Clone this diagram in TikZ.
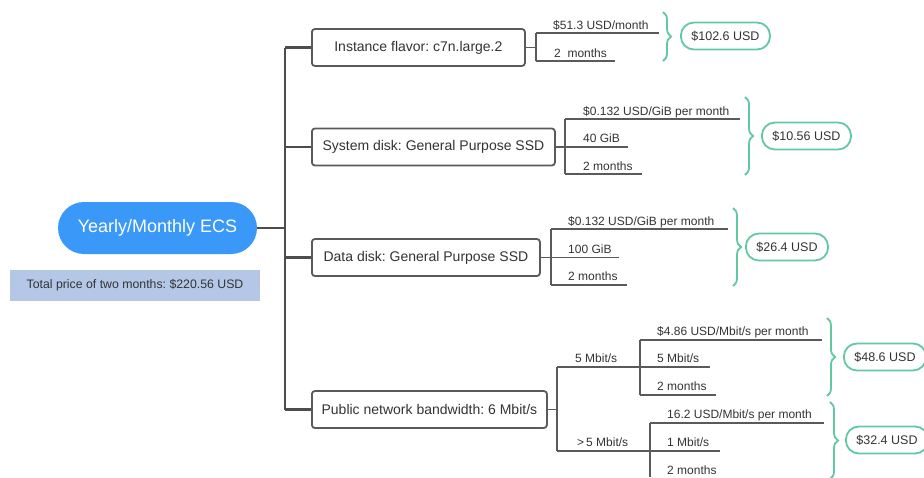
\documentclass[tikz,border=0pt]{standalone}
\usepackage{fontspec}
\setmainfont{Liberation Sans}
\usetikzlibrary{decorations.pathreplacing,calc}
\definecolor{rootblue}{RGB}{58,152,248}
\definecolor{totfill}{RGB}{180,199,231}
\definecolor{trunkgray}{RGB}{77,77,77}
\definecolor{subgray}{RGB}{90,90,90}
\definecolor{txt}{RGB}{51,51,51}
\definecolor{grn}{RGB}{98,200,160}
\frenchspacing
\begin{document}
\begin{tikzpicture}[x=1pt,y=-1pt,
  rootnode/.style={fill=rootblue, text=white, rounded corners=26pt, minimum width=199pt, minimum height=52pt, font=\fontsize{18}{20}\selectfont, inner sep=0pt},
  totbox/.style={fill=totfill, text=txt, minimum width=250pt, minimum height=31pt, font=\fontsize{12.3}{14}\selectfont, inner sep=0pt},
  branch/.style={draw=subgray, line width=1.8pt, rounded corners=3pt, fill=white, text=txt, minimum height=37pt, inner xsep=0pt, font=\fontsize{14}{16}\selectfont, anchor=west},
  lbl/.style={text=txt, inner sep=0pt, anchor=base west, font=\fontsize{12}{14}\selectfont},
  result/.style={draw=grn, line width=1.8pt, rounded corners=13pt, fill=white, text=txt, minimum height=27pt, inner xsep=10.5pt, inner ysep=0pt, font=\fontsize{12.5}{14}\selectfont, anchor=west},
  trunk/.style={draw=trunkgray, line width=2.6pt},
  sub/.style={draw=subgray, line width=1.1pt},
  brc/.style={draw=grn, line width=1.8pt, decorate, decoration={brace, amplitude=8pt}}
]
\useasboundingbox (0,0) rectangle (924,477);

% root and total
\node[rootnode] (root) at (157.5,228) {Yearly/Monthly ECS};
\node[totbox] (tot) at (135,285.5) {Total price of two months: \$220.56 USD};

% branches
\node[branch, minimum width=213pt] (inst) at (311,47.5) {Instance flavor: c7n.large.2};
\node[branch, minimum width=243pt] (sys) at (311,147) {System disk: General Purpose SSD};
\node[branch, minimum width=228pt] (data) at (311,257.5) {Data disk: General Purpose SSD};
\node[branch, minimum width=235pt] (pub) at (311,409.5) {Public network bandwidth: 6 Mbit/s};

% trunk
\coordinate (tk) at (285,228);
\draw[trunk] (root.east) -- (tk);
\draw[trunk] (tk |- inst.west) -- (tk |- pub.west);
\draw[trunk] (tk |- inst.west) -- (inst.west);
\draw[trunk] (tk |- sys.west) -- (sys.west);
\draw[trunk] (tk |- data.west) -- (data.west);
\draw[trunk] (tk |- pub.west) -- (pub.west);

% ---------- instance group
\coordinate (ij) at (536,47.5);
\coordinate (ia) at (536,33);
\coordinate (ib) at (536,61);
\coordinate (iae) at (659,33);
\coordinate (ibe) at (615,61);
\draw[sub] (inst.east) -- (ij);
\draw[sub] (ia) -- (ib);
\draw[sub] (ia) -- (iae);
\draw[sub] (ib) -- (ibe);
\node[lbl] (il1) at (553,29) {\$51.3 USD/month};
\node[lbl] (il2) at (554,57) {2\ \ months};
\draw[brc] (663,12) -- (663,61);
\node[result] (ir) at (680,36) {\$102.6 USD};

% ---------- system disk group
\coordinate (sa) at (565,119);
\coordinate (sb) at (565,174);
\coordinate (sae) at (740,119);
\coordinate (sme) at (628,147);
\coordinate (sbe) at (642,174);
\draw[sub] (sa) -- (sb);
\draw[sub] (sa) -- (sae);
\draw[sub] (sys.east) -- (sme);
\draw[sub] (sb) -- (sbe);
\node[lbl] (sl1) at (583,115) {\$0.132 USD/GiB per month};
\node[lbl] (sl2) at (583,142.5) {40 GiB};
\node[lbl] (sl3) at (583,170) {2 months};
\draw[brc] (745,97) -- (745,175);
\node[result] (sr) at (761,136) {\$10.56 USD};

% ---------- data disk group
\coordinate (da) at (551,229);
\coordinate (db) at (551,285);
\coordinate (dae) at (728,229);
\coordinate (dme) at (619,257.5);
\coordinate (dbe) at (627,285);
\draw[sub] (da) -- (db);
\draw[sub] (da) -- (dae);
\draw[sub] (data.east) -- (dme);
\draw[sub] (db) -- (dbe);
\node[lbl] (dl1) at (568,225) {\$0.132 USD/GiB per month};
\node[lbl] (dl2) at (568,253) {100 GiB};
\node[lbl] (dl3) at (568,280.5) {2 months};
\draw[brc] (733,208) -- (733,286);
\node[result] (dr) at (745,247) {\$26.4 USD};

% ---------- public bandwidth group
\coordinate (pj) at (557,409.5);
\coordinate (pa) at (557,367);
\coordinate (pb) at (557,451);
\draw[sub] (pub.east) -- (pj);
\draw[sub] (pa) -- (pb);
\coordinate (pae) at (710,367);
\coordinate (pbe) at (720,451);
\draw[sub] (pa) -- (pae);
\draw[sub] (pb) -- (pbe);
\node[lbl] (pl1) at (575,362) {5 Mbit/s};
\node[lbl] (pl2) at (577,446) {>\,5 Mbit/s};

% sub-group 1
\coordinate (qa) at (640,340);
\coordinate (qb) at (640,395);
\coordinate (qae) at (822,340);
\coordinate (qbe) at (716,395);
\draw[sub] (qa) -- (qb);
\draw[sub] (qa) -- (qae);
\draw[sub] (qb) -- (qbe);
\node[lbl] (ql1) at (657,335) {\$4.86 USD/Mbit/s per month};
\node[lbl] (ql2) at (657,362) {5 Mbit/s};
\node[lbl] (ql3) at (657,390) {2 months};
\draw[brc] (827,318) -- (827,396);
\node[result] (qr) at (843,357) {\$48.6 USD};

% sub-group 2
\coordinate (ra) at (650,423);
\coordinate (rb) at (650,477);
\coordinate (rae) at (824,423);
\draw[sub] (ra) -- (rb);
\draw[sub] (ra) -- (rae);
\node[lbl] (rl1) at (667,418) {16.2 USD/Mbit/s per month};
\node[lbl] (rl2) at (667,446) {1 Mbit/s};
\node[lbl] (rl3) at (667,474) {2 months};
\draw[brc] (830,402) -- (830,479);
\node[result] (rr) at (845,440) {\$32.4 USD};
\end{tikzpicture}
\end{document}
